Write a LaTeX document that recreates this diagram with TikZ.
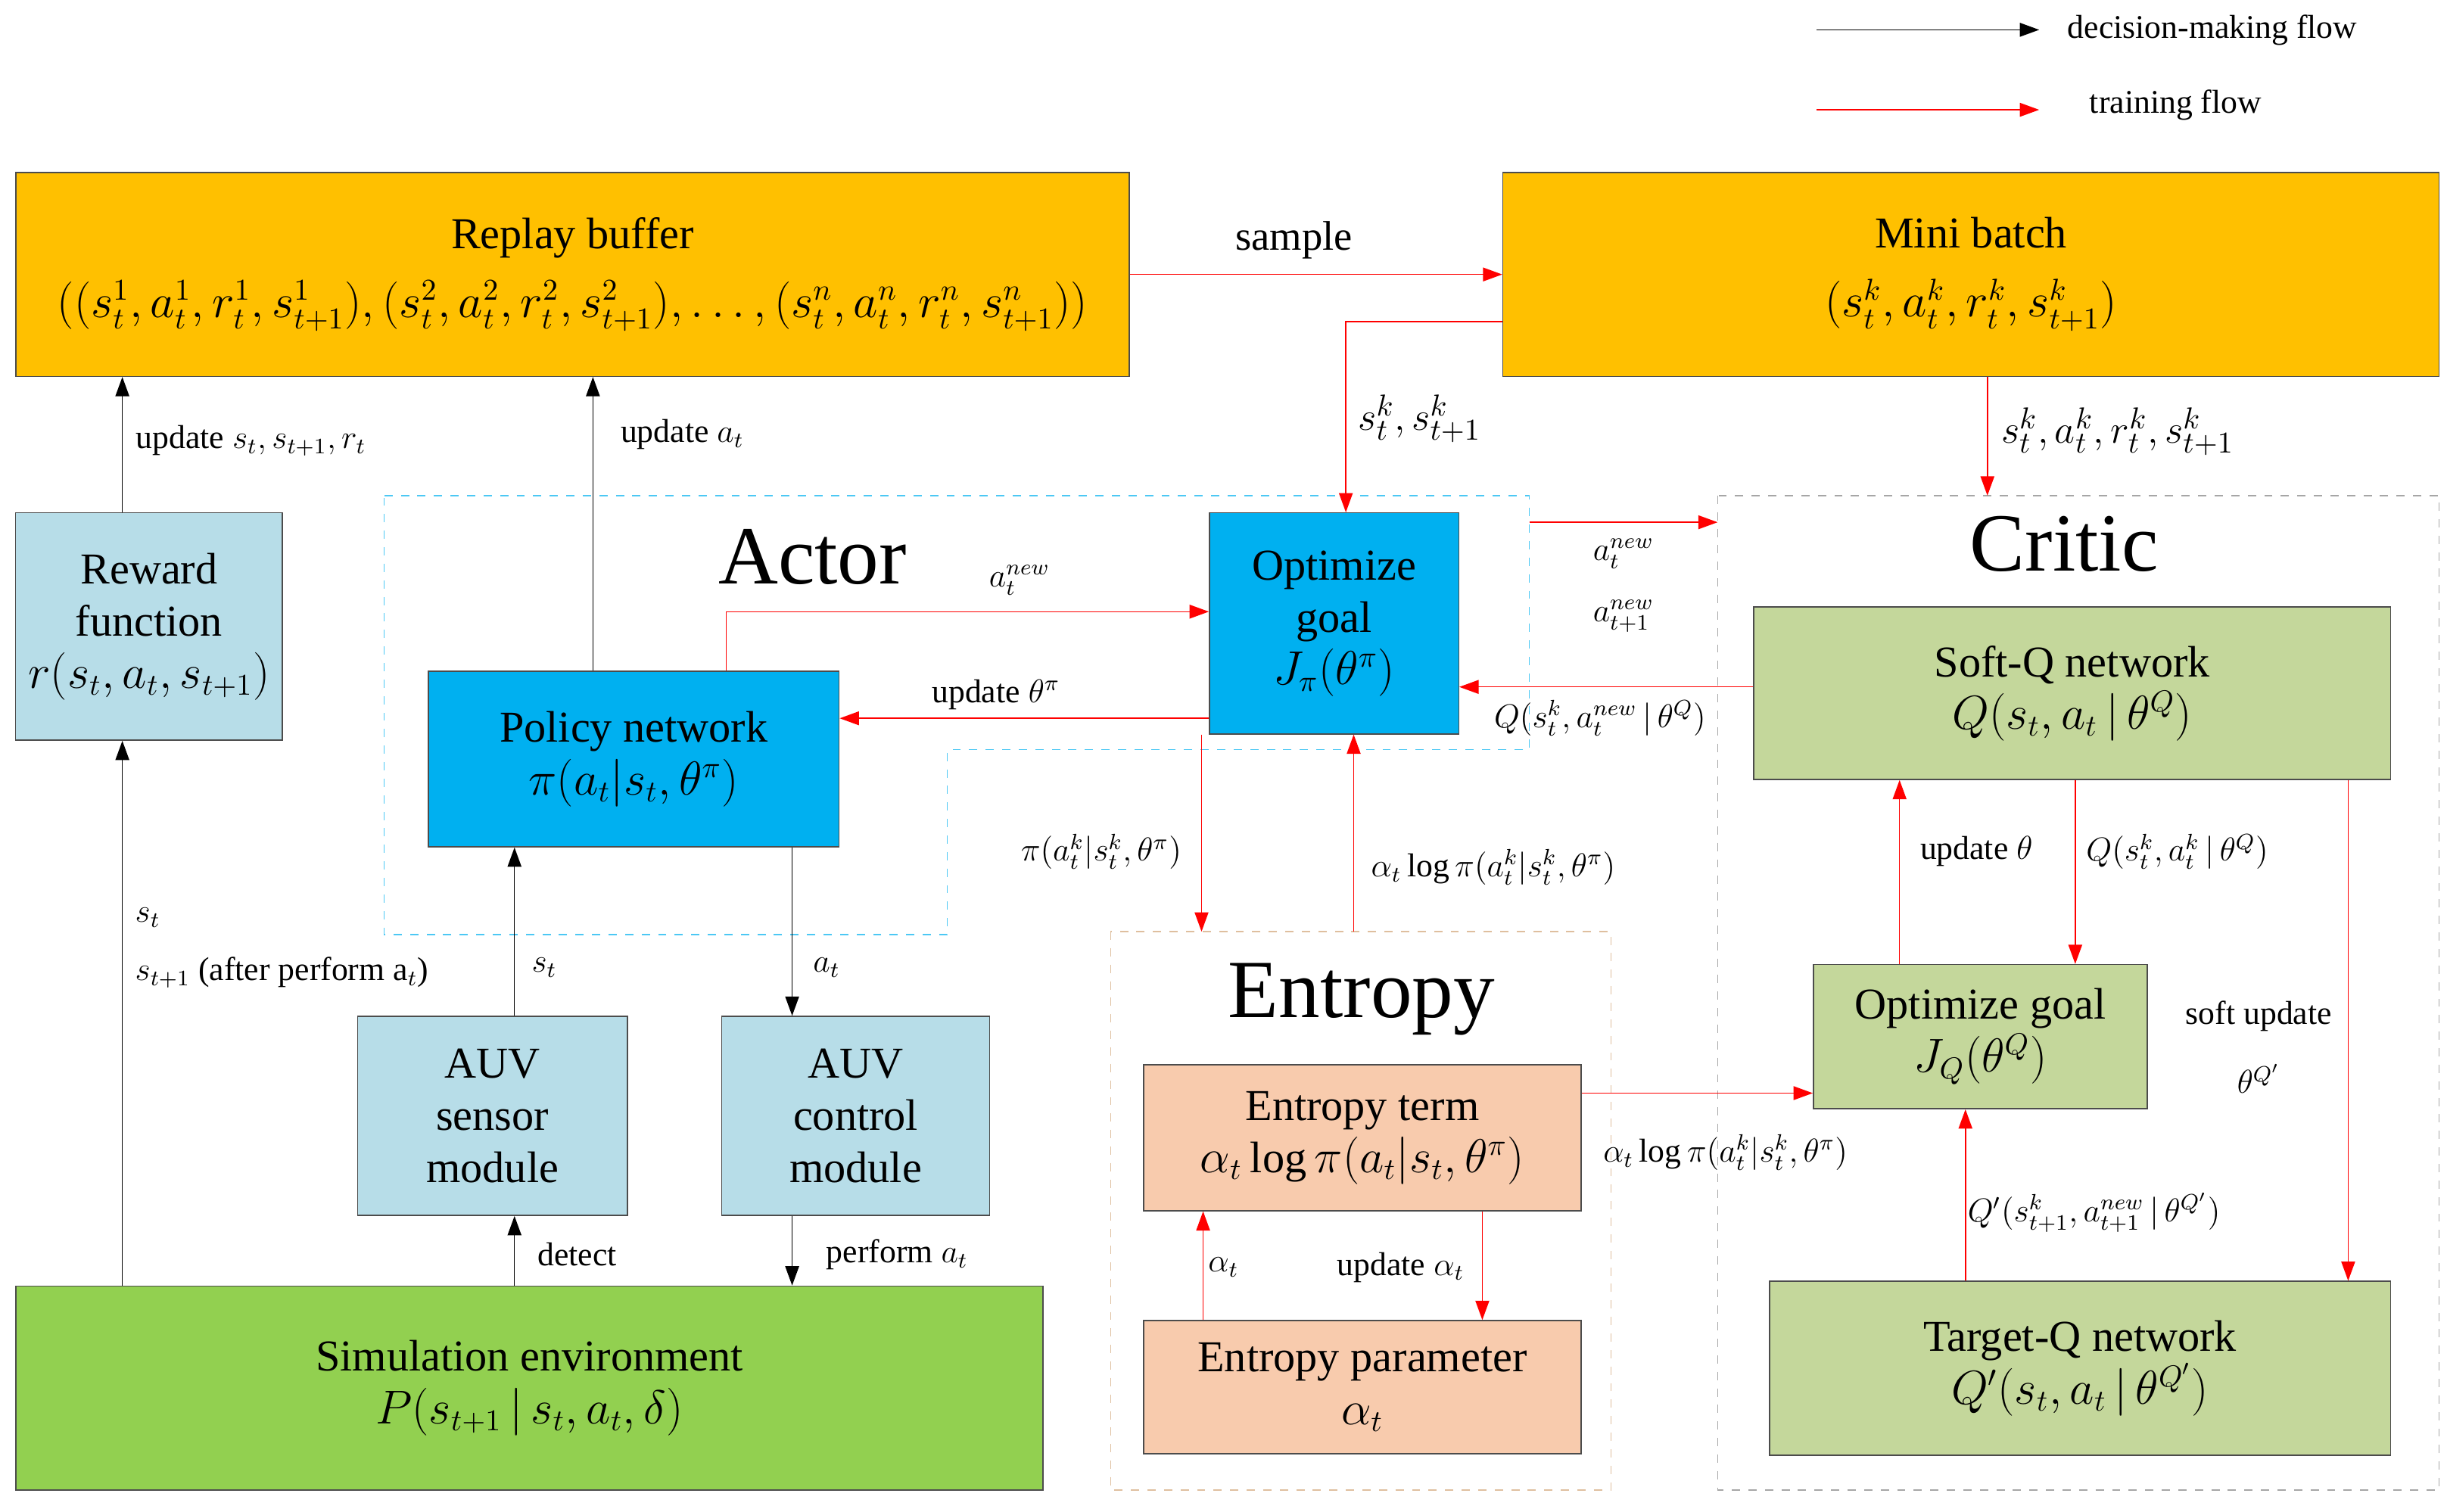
\documentclass[tikz,border=0pt]{standalone}
\usepackage{fontspec}
\setmainfont{Liberation Serif}
\usetikzlibrary{arrows.meta}
\definecolor{buforange}{HTML}{FFC000}
\definecolor{actblue}{HTML}{00B0F0}
\definecolor{envblue}{HTML}{B7DDE8}
\definecolor{simgreen}{HTML}{92D050}
\definecolor{entpeach}{HTML}{F8CBAD}
\definecolor{crigreen}{HTML}{C4D79B}
\begin{document}
\begin{tikzpicture}[x=0.02cm,y=-0.02cm,
  box/.style={draw=black!70,thin,align=center,font=\fontsize{16}{19}\selectfont,inner sep=2pt},
  lbl/.style={font=\fontsize{12}{14}\selectfont},
  head/.style={font=\fontsize{30}{32}\selectfont},
  blkarr/.style={draw=black,thin,-{Triangle[length=7pt,width=5pt]}},
  redarr/.style={draw=red,thin,-{Triangle[length=7pt,width=5pt]}},
  region/.style={dashed,thin}]
\useasboundingbox (0,0) rectangle (1560,964);

% legend
\coordinate (lk1) at (1158,19); \coordinate (lk2) at (1300,19);
\coordinate (lr1) at (1158,70); \coordinate (lr2) at (1300,70);
\draw[blkarr] (lk1) -- (lk2);
\draw[redarr] (lr1) -- (lr2);
\node[lbl,anchor=west] (lgk) at (1312,19) {decision-making flow};
\node[lbl,anchor=west] (lgr) at (1326,67) {training flow};

% regions
\draw[region,draw=actblue!70] (245,316) -- (975,316) -- (975,478) -- (604,478) -- (604,596) -- (245,596) -- cycle;
\draw[region,draw=brown!50] (708,594) rectangle (1027,950);
\draw[region,draw=gray!70] (1095,316) rectangle (1555,950);
\node[head] (actorlbl) at (518,355) {Actor};
\node[head] (entlbl) at (868,637) {Entropy};
\node[head] (critlbl) at (1316,347) {Critic};

% boxes
\node[box,fill=buforange,minimum width=14.2cm,minimum height=2.6cm] (replay) at (365,175)
  {Replay buffer\\[6pt] $\big((s_t^1,a_t^1,r_t^1,s_{t+1}^1),(s_t^2,a_t^2,r_t^2,s_{t+1}^2),\ldots,(s_t^n,a_t^n,r_t^n,s_{t+1}^n)\big)$};
\node[box,fill=buforange,minimum width=11.94cm,minimum height=2.6cm] (mini) at (1256.5,175)
  {Mini batch\\[6pt] $(s_t^k,a_t^k,r_t^k,s_{t+1}^k)$};
\node[box,fill=envblue,minimum width=3.4cm,minimum height=2.9cm] (reward) at (95,399.5)
  {Reward\\function\\$r(s_t,a_t,s_{t+1})$};
\node[box,fill=actblue,minimum width=5.24cm,minimum height=2.24cm] (policy) at (404,484)
  {Policy network\\$\pi(a_t|s_t,\theta^\pi)$};
\node[box,fill=actblue,minimum width=3.18cm,minimum height=2.82cm] (optA) at (850.5,397.5)
  {Optimize\\goal\\$J_\pi(\theta^\pi)$};
\node[box,fill=envblue,minimum width=3.44cm,minimum height=2.54cm] (sensor) at (314,711.5)
  {AUV\\sensor\\module};
\node[box,fill=envblue,minimum width=3.42cm,minimum height=2.54cm] (control) at (545.5,711.5)
  {AUV\\control\\module};
\node[box,fill=simgreen,minimum width=13.1cm,minimum height=2.6cm] (sim) at (337.5,885)
  {Simulation environment\\$P(s_{t+1}\,|\,s_t,a_t,\delta)$};
\node[box,fill=entpeach,minimum width=5.58cm,minimum height=1.86cm] (entterm) at (868.5,725.5)
  {Entropy term\\$\alpha_t\log\pi(a_t|s_t,\theta^\pi)$};
\node[box,fill=entpeach,minimum width=5.58cm,minimum height=1.7cm] (entparam) at (868.5,884.5)
  {Entropy parameter\\$\alpha_t$};
\node[box,fill=crigreen,minimum width=8.12cm,minimum height=2.2cm] (softQ) at (1321,442)
  {Soft-Q network\\$Q(s_t,a_t\,|\,\theta^Q)$};
\node[box,fill=crigreen,minimum width=4.26cm,minimum height=1.84cm] (optQ) at (1262.5,661)
  {Optimize goal\\$J_Q(\theta^Q)$};
\node[box,fill=crigreen,minimum width=7.92cm,minimum height=2.22cm] (targetQ) at (1326,872.5)
  {Target-Q network\\$Q'(s_t,a_t\,|\,\theta^{Q'})$};

% decision-making flow
\draw[blkarr] (reward.north -| 78,0) -- (replay.south -| 78,0);
\node[lbl] (l1) at (160,281) {update $s_t,s_{t+1},r_t$};
\draw[blkarr] (policy.north -| 378,0) -- (replay.south -| 378,0);
\node[lbl] (l2) at (435,277) {update $a_t$};
\draw[blkarr] (sim.north -| 78,0) -- (reward.south -| 78,0);
\node[lbl,anchor=west] (l3) at (80,585) {$s_t$};
\node[lbl,anchor=west] (l4) at (80,620) {$s_{t+1}$ (after perform a$_t$)};
\draw[blkarr] (sim.north -| 328,0) -- (sensor.south -| 328,0);
\node[lbl] (l5) at (368,800) {detect};
\draw[blkarr] (sensor.north -| 328,0) -- (policy.south -| 328,0);
\node[lbl] (l6) at (347,617) {$s_t$};
\draw[blkarr] (policy.south -| 505,0) -- (control.north -| 505,0);
\node[lbl] (l7) at (527,617) {$a_t$};
\draw[blkarr] (control.south -| 505,0) -- (sim.north -| 505,0);
\node[lbl] (l8) at (572,800) {perform $a_t$};

% training flow
\draw[redarr] (replay.east |- 0,175) -- (mini.west |- 0,175);
\node[lbl,font=\fontsize{15}{17}\selectfont] (l9) at (825,153) {sample};
\draw[redarr] (mini.west |- 0,205) -| (optA.north -| 858,0);
\node[lbl,font=\fontsize{15}{17}\selectfont] (l10) at (905,267) {$s_t^k,s_{t+1}^k$};
\coordinate (critop) at (1267,316);
\draw[redarr] (mini.south -| 1267,0) -- (critop);
\node[lbl,font=\fontsize{15}{17}\selectfont] (l11) at (1350,275) {$s_t^k,a_t^k,r_t^k,s_{t+1}^k$};
\coordinate (anew1) at (975,333); \coordinate (anew2) at (1095,333);
\draw[redarr] (anew1) -- (anew2);
\node[lbl] (l12) at (1035,353) {$a_t^{new}$};
\node[lbl] (l13) at (1035,393) {$a_{t+1}^{new}$};
\draw[redarr] (policy.north -| 463,0) |- (optA.west |- 0,390);
\node[lbl] (l14) at (650,370) {$a_t^{new}$};
\draw[redarr] (optA.west |- 0,458) -- (policy.east |- 0,458);
\node[lbl] (l15) at (635,443) {update $\theta^\pi$};
\draw[redarr] (softQ.west |- 0,438) -- (optA.east |- 0,438);
\node[lbl] (l16) at (1020,458) {$Q(s_t^k,a_t^{new}\,|\,\theta^Q)$};
\coordinate (enttop1) at (766,594); \coordinate (enttop2) at (863,594);
\draw[redarr] (optA.south -| 766,0) -- (enttop1);
\node[lbl] (l17) at (702,543) {$\pi(a_t^k|s_t^k,\theta^\pi)$};
\draw[redarr] (enttop2) -- (optA.south -| 863,0);
\node[lbl] (l18) at (952,553) {$\alpha_t\log\pi(a_t^k|s_t^k,\theta^\pi)$};
\draw[redarr] (entterm.east |- 0,697) -- (optQ.west |- 0,697);
\node[lbl] (l19) at (1100,735) {$\alpha_t\log\pi(a_t^k|s_t^k,\theta^\pi)$};
\draw[redarr] (optQ.north -| 1211,0) -- (softQ.south -| 1211,0);
\node[lbl] (l20) at (1260,543) {update $\theta$};
\draw[redarr] (softQ.south -| 1323,0) -- (optQ.north -| 1323,0);
\node[lbl] (l21) at (1388,543) {$Q(s_t^k,a_t^k\,|\,\theta^Q)$};
\draw[redarr] (targetQ.north -| 1253,0) -- (optQ.south -| 1253,0);
\node[lbl] (l22) at (1335,773) {$Q'(s_{t+1}^k,a_{t+1}^{new}\,|\,\theta^{Q'})$};
\draw[redarr] (softQ.south -| 1497,0) -- (targetQ.north -| 1497,0);
\node[lbl] (l23) at (1440,648) {soft update};
\node[lbl] (l24) at (1440,688) {$\theta^{Q'}$};
\draw[redarr] (entparam.north -| 767,0) -- (entterm.south -| 767,0);
\node[lbl] (l25) at (780,808) {$\alpha_t$};
\draw[redarr] (entterm.south -| 945,0) -- (entparam.north -| 945,0);
\node[lbl] (l26) at (893,808) {update $\alpha_t$};
\end{tikzpicture}
\end{document}
